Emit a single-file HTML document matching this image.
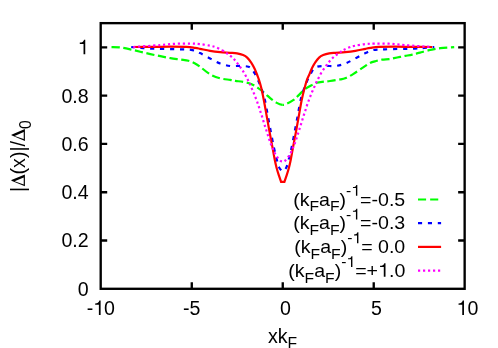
<!DOCTYPE html>
<html><head><meta charset="utf-8"><title>plot</title>
<style>html,body{margin:0;padding:0;background:#fff}body{width:498px;height:348px;overflow:hidden;font-family:"Liberation Sans",sans-serif}svg{position:absolute;left:0;top:0;display:block;will-change:transform}</style>
</head><body>
<svg width="498" height="348" viewBox="0 0 498 348">
<g fill="none" stroke-width="2.20" stroke-linejoin="miter">
<path d="M282.50,104.90 C280.72,104.72 278.35,103.72 276.30,102.60 C274.25,101.48 272.05,99.70 270.20,98.20 C268.35,96.70 267.20,95.28 265.20,93.60 C263.20,91.92 260.55,89.72 258.20,88.10 C255.85,86.48 253.62,84.93 251.10,83.90 C248.58,82.87 245.70,82.40 243.10,81.90 C240.50,81.40 237.65,81.23 235.50,80.90 C233.35,80.57 232.75,80.33 230.20,79.90 C227.65,79.47 223.55,79.23 220.20,78.30 C216.85,77.37 213.47,76.23 210.10,74.30 C206.73,72.37 202.58,68.55 200.00,66.70 C197.42,64.85 196.52,64.18 194.60,63.20 C192.68,62.22 190.85,61.40 188.50,60.80 C186.15,60.20 183.52,60.03 180.50,59.60 C177.48,59.17 173.75,58.77 170.40,58.20 C167.05,57.63 163.75,56.88 160.40,56.20 C157.05,55.52 153.67,54.85 150.30,54.10 C146.93,53.35 143.55,52.50 140.20,51.70 C136.85,50.90 133.55,50.00 130.20,49.30 C126.85,48.60 123.30,47.87 120.10,47.50 C116.90,47.13 112.52,47.17 111.00,47.10" stroke="#00ff00" stroke-dasharray="8.2 3.6" stroke-dashoffset="0.9"/>
<path d="M282.50,104.90 C284.28,105.08 285.15,104.53 287.00,103.70 C288.85,102.87 292.00,100.98 293.60,99.90 C295.20,98.82 295.18,98.53 296.60,97.20 C298.02,95.87 300.60,93.33 302.10,91.90 C303.60,90.47 303.92,89.77 305.60,88.60 C307.28,87.43 310.35,85.87 312.20,84.90 C314.05,83.93 314.78,83.33 316.70,82.80 C318.62,82.27 321.48,82.00 323.70,81.70 C325.92,81.40 327.27,81.38 330.00,81.00 C332.73,80.62 337.58,79.85 340.10,79.40 C342.62,78.95 342.93,79.18 345.10,78.30 C347.27,77.42 350.08,75.92 353.10,74.10 C356.12,72.28 360.38,69.25 363.20,67.40 C366.02,65.55 367.87,64.07 370.00,63.00 C372.13,61.93 373.98,61.57 376.00,61.00 C378.02,60.43 379.92,59.92 382.10,59.60 C384.28,59.28 387.10,59.35 389.10,59.10 C391.10,58.85 392.25,58.47 394.10,58.10 C395.95,57.73 398.35,57.27 400.20,56.90 C402.05,56.53 403.18,56.28 405.20,55.90 C407.22,55.52 409.83,55.15 412.30,54.60 C414.77,54.05 416.98,53.38 420.00,52.60 C423.02,51.82 427.00,50.63 430.40,49.90 C433.80,49.17 436.43,48.67 440.40,48.20 C444.37,47.73 451.90,47.28 454.20,47.10" stroke="#00ff00" stroke-dasharray="8.2 3.6" stroke-dashoffset="6.8"/>
<path d="M282.75,171.30 C282.20,171.30 281.73,170.80 281.10,170.10 C280.48,169.40 279.70,168.78 279.00,167.10 C278.30,165.42 277.77,163.35 276.90,160.00 C276.03,156.65 274.87,152.00 273.80,147.00 C272.73,142.00 271.52,135.33 270.50,130.00 C269.48,124.67 268.63,120.00 267.70,115.00 C266.77,110.00 265.80,104.00 264.90,100.00 C264.00,96.00 263.12,93.50 262.30,91.00 C261.48,88.50 260.80,87.00 260.00,85.00 C259.20,83.00 258.40,80.95 257.50,79.00 C256.60,77.05 255.52,74.92 254.60,73.30 C253.68,71.68 253.03,70.40 252.00,69.30 C250.97,68.20 250.35,67.27 248.40,66.70 C246.45,66.13 243.33,66.02 240.30,65.90 C237.27,65.78 233.55,66.40 230.20,66.00 C226.85,65.60 223.55,64.77 220.20,63.50 C216.85,62.23 213.47,60.13 210.10,58.40 C206.73,56.67 202.93,54.48 200.00,53.10 C197.07,51.72 195.75,50.73 192.50,50.10 C189.25,49.47 187.53,49.55 180.50,49.30 C173.47,49.05 156.88,48.83 150.30,48.60 C143.72,48.37 144.18,48.17 141.00,47.90 C137.82,47.63 132.83,47.15 131.20,47.00" stroke="#0000ff" stroke-dasharray="4.2 5.7" stroke-dashoffset="7.95"/>
<path d="M282.75,171.30 C283.30,171.30 283.77,170.80 284.40,170.10 C285.02,169.40 285.80,168.78 286.50,167.10 C287.20,165.42 287.73,163.35 288.60,160.00 C289.47,156.65 290.63,152.00 291.70,147.00 C292.77,142.00 293.98,135.33 295.00,130.00 C296.02,124.67 296.87,120.00 297.80,115.00 C298.73,110.00 299.70,104.00 300.60,100.00 C301.50,96.00 302.38,93.50 303.20,91.00 C304.02,88.50 304.70,87.00 305.50,85.00 C306.30,83.00 307.10,80.95 308.00,79.00 C308.90,77.05 309.98,74.92 310.90,73.30 C311.82,71.68 312.47,70.40 313.50,69.30 C314.53,68.20 315.15,67.27 317.10,66.70 C319.05,66.13 322.17,66.02 325.20,65.90 C328.23,65.78 331.95,66.40 335.30,66.00 C338.65,65.60 341.95,64.77 345.30,63.50 C348.65,62.23 352.03,60.13 355.40,58.40 C358.77,56.67 362.57,54.48 365.50,53.10 C368.43,51.72 369.75,50.73 373.00,50.10 C376.25,49.47 377.97,49.55 385.00,49.30 C392.03,49.05 408.62,48.83 415.20,48.60 C421.78,48.37 421.32,48.17 424.50,47.90 C427.68,47.63 432.67,47.15 434.30,47.00" stroke="#0000ff" stroke-dasharray="4.2 5.7" stroke-dashoffset="6.15"/>
<path d="M133.20,47.00 C136.05,46.98 144.10,46.95 150.30,46.90 C156.50,46.85 164.37,46.70 170.40,46.70 C176.43,46.70 182.40,46.70 186.50,46.90 C190.60,47.10 192.75,47.58 195.00,47.90 C197.25,48.22 197.48,48.30 200.00,48.80 C202.52,49.30 206.73,50.33 210.10,50.90 C213.47,51.47 216.87,51.88 220.20,52.20 C223.53,52.52 227.28,52.60 230.10,52.80 C232.92,53.00 234.93,53.02 237.10,53.40 C239.27,53.78 241.42,54.40 243.10,55.10 C244.78,55.80 245.85,56.35 247.20,57.60 C248.55,58.85 249.98,60.78 251.20,62.60 C252.42,64.42 253.50,66.43 254.50,68.50 C255.50,70.57 256.48,73.20 257.20,75.00 C257.92,76.80 258.12,77.13 258.80,79.30 C259.48,81.47 260.47,84.55 261.30,88.00 C262.13,91.45 262.93,95.50 263.80,100.00 C264.67,104.50 265.60,110.00 266.50,115.00 C267.40,120.00 268.22,124.67 269.20,130.00 C270.18,135.33 271.47,142.00 272.40,147.00 C273.33,152.00 274.12,156.58 274.80,160.00 C275.48,163.42 275.85,165.02 276.50,167.50 C277.15,169.98 277.93,172.50 278.70,174.90 L281.10,181.90 L284.40,181.90 L286.80,174.90 C287.57,172.50 288.35,169.98 289.00,167.50 C289.65,165.02 290.02,163.42 290.70,160.00 C291.38,156.58 292.17,152.00 293.10,147.00 C294.03,142.00 295.32,135.33 296.30,130.00 C297.28,124.67 298.10,120.00 299.00,115.00 C299.90,110.00 300.77,104.50 301.70,100.00 C302.63,95.50 303.70,91.45 304.60,88.00 C305.50,84.55 306.35,81.47 307.10,79.30 C307.85,77.13 308.32,76.80 309.10,75.00 C309.88,73.20 310.80,70.57 311.80,68.50 C312.80,66.43 313.88,64.42 315.10,62.60 C316.32,60.78 317.75,58.85 319.10,57.60 C320.45,56.35 321.52,55.80 323.20,55.10 C324.88,54.40 327.17,53.78 329.20,53.40 C331.23,53.02 332.72,53.00 335.40,52.80 C338.08,52.60 341.97,52.52 345.30,52.20 C348.63,51.88 352.03,51.47 355.40,50.90 C358.77,50.33 362.98,49.30 365.50,48.80 C368.02,48.30 368.25,48.22 370.50,47.90 C372.75,47.58 374.90,47.10 379.00,46.90 C383.10,46.70 389.07,46.70 395.10,46.70 C401.13,46.70 409.00,46.85 415.20,46.90 C421.40,46.95 429.45,46.98 432.30,47.00" stroke="#ff0000"/>
<path d="M133.20,47.00 C137.73,46.68 153.18,45.65 160.40,45.10 C167.62,44.55 171.48,43.95 176.50,43.70 C181.52,43.45 186.58,43.53 190.50,43.60 C194.42,43.67 196.73,43.75 200.00,44.10 C203.27,44.45 207.43,45.17 210.10,45.70 C212.77,46.23 214.02,46.57 216.00,47.30 C217.98,48.03 220.30,49.17 222.00,50.10" stroke="#ff00ff" stroke-dasharray="2.2 2.77" stroke-dashoffset="0"/>
<path d="M282.75,161.60 C282.02,161.60 281.36,161.47 280.50,160.80 C279.64,160.13 278.50,158.77 277.60,157.60 C276.70,156.43 275.85,155.22 275.10,153.80 C274.35,152.38 273.77,150.63 273.10,149.10 C272.43,147.57 271.72,146.15 271.10,144.60 C270.48,143.05 269.95,141.40 269.40,139.80 C268.85,138.20 268.30,136.55 267.80,135.00 C267.30,133.45 266.88,132.02 266.40,130.50 C265.92,128.98 265.40,127.47 264.90,125.90 C264.40,124.33 263.90,122.73 263.40,121.10 C262.90,119.47 262.40,117.68 261.90,116.10 C261.40,114.52 260.90,113.15 260.40,111.60 C259.90,110.05 259.42,108.37 258.90,106.80 C258.38,105.23 257.85,103.72 257.30,102.20 C256.75,100.68 256.18,99.22 255.60,97.70 C255.02,96.18 254.43,94.62 253.80,93.10 C253.17,91.58 252.45,90.10 251.80,88.60 C251.15,87.10 250.57,85.57 249.90,84.10 C249.23,82.63 248.57,81.32 247.80,79.80 C247.03,78.28 246.12,76.48 245.30,75.00 C244.48,73.52 243.77,72.25 242.90,70.90 C242.03,69.55 241.07,68.23 240.10,66.90 C239.13,65.57 238.13,64.20 237.10,62.90 C236.07,61.60 235.02,60.27 233.90,59.10 C232.78,57.93 231.68,56.93 230.40,55.90 C229.12,54.87 227.60,53.87 226.20,52.90 C224.80,51.93 223.70,51.03 222.00,50.10" stroke="#ff00ff" stroke-dasharray="2.2 2.69" stroke-dashoffset="4.05"/>
<path d="M282.75,161.60 C283.48,161.60 284.06,161.47 284.90,160.80 C285.74,160.13 286.90,158.77 287.80,157.60 C288.70,156.43 289.55,155.22 290.30,153.80 C291.05,152.38 291.63,150.63 292.30,149.10 C292.97,147.57 293.68,146.15 294.30,144.60 C294.92,143.05 295.45,141.40 296.00,139.80 C296.55,138.20 297.10,136.55 297.60,135.00 C298.10,133.45 298.52,132.02 299.00,130.50 C299.48,128.98 300.00,127.47 300.50,125.90 C301.00,124.33 301.50,122.73 302.00,121.10 C302.50,119.47 303.00,117.68 303.50,116.10 C304.00,114.52 304.50,113.15 305.00,111.60 C305.50,110.05 305.98,108.37 306.50,106.80 C307.02,105.23 307.55,103.72 308.10,102.20 C308.65,100.68 309.22,99.22 309.80,97.70 C310.38,96.18 310.97,94.62 311.60,93.10 C312.23,91.58 312.95,90.10 313.60,88.60 C314.25,87.10 314.83,85.57 315.50,84.10 C316.17,82.63 316.83,81.32 317.60,79.80 C318.37,78.28 319.28,76.48 320.10,75.00 C320.92,73.52 321.63,72.25 322.50,70.90 C323.37,69.55 324.33,68.23 325.30,66.90 C326.27,65.57 327.27,64.20 328.30,62.90 C329.33,61.60 330.38,60.27 331.50,59.10 C332.62,57.93 333.72,56.93 335.00,55.90 C336.28,54.87 337.80,53.87 339.20,52.90 C340.60,51.93 341.70,51.03 343.40,50.10" stroke="#ff00ff" stroke-dasharray="2.2 2.76" stroke-dashoffset="3.05"/>
<path d="M432.20,47.00 C427.67,46.68 412.22,45.65 405.00,45.10 C397.78,44.55 393.92,43.95 388.90,43.70 C383.88,43.45 378.82,43.53 374.90,43.60 C370.98,43.67 368.67,43.75 365.40,44.10 C362.13,44.45 357.97,45.17 355.30,45.70 C352.63,46.23 351.38,46.57 349.40,47.30 C347.42,48.03 345.10,49.17 343.40,50.10" stroke="#ff00ff" stroke-dasharray="2.2 2.77" stroke-dashoffset="2.1"/>
<path d="M418.0,199.5H441.1" stroke="#00ff00" stroke-dasharray="8.1 4.05"/>
<path d="M418.0,223.2H441.1" stroke="#0000ff" stroke-dasharray="4.1 5.8"/>
<path d="M418.0,246.9H441.1" stroke="#ff0000"/>
<path d="M418.0,270.7H441.1" stroke="#ff00ff" stroke-dasharray="2.2 2.8"/>
</g>
<g fill="none" stroke="#000" stroke-width="2.35">
<rect x="100.70" y="23.15" width="363.95" height="265.65"/>
<path d="M100.70,240.50h6.50 M464.65,240.50h-6.50 M100.70,192.20h6.50 M464.65,192.20h-6.50 M100.70,143.90h6.50 M464.65,143.90h-6.50 M100.70,95.60h6.50 M464.65,95.60h-6.50 M100.70,47.30h6.50 M464.65,47.30h-6.50 M191.78,288.80v-6.50 M191.78,23.15v6.50 M282.75,288.80v-6.50 M282.75,23.15v6.50 M373.73,288.80v-6.50 M373.73,23.15v6.50"/>
</g>
<g font-family="'Liberation Sans', sans-serif" font-size="19.60" fill="#000">
<g transform="matrix(1 0 0 1.060 0 -17.288)">
<text x="77.80" y="295.15" font-size="19.60" xml:space="preserve">0</text>
</g>
<g transform="matrix(1 0 0 1.060 0 -14.394)">
<text x="61.46" y="246.91" font-size="19.60" xml:space="preserve">0.2</text>
</g>
<g transform="matrix(1 0 0 1.060 0 -11.499)">
<text x="61.46" y="198.67" font-size="19.60" xml:space="preserve">0.4</text>
</g>
<g transform="matrix(1 0 0 1.060 0 -8.605)">
<text x="61.46" y="150.43" font-size="19.60" xml:space="preserve">0.6</text>
</g>
<g transform="matrix(1 0 0 1.060 0 -5.710)">
<text x="61.46" y="102.19" font-size="19.60" xml:space="preserve">0.8</text>
</g>
<g transform="matrix(1 0 0 1.060 0 -2.816)">
<path d="M85.25,53.95 L83.53,53.95 L83.53,44.05 L79.80,44.05 L79.80,42.82 C82.02,42.70 83.60,42.07 84.04,40.05 L85.25,40.05 Z"/>
</g>
<g transform="matrix(1 0 0 1.040 0 -12.307)">
<text x="86.64" y="314.70" font-size="19.60" xml:space="preserve">-</text>
<path d="M100.61,314.70 L98.89,314.70 L98.89,304.80 L95.17,304.80 L95.17,303.57 C97.38,303.45 98.97,302.82 99.40,300.80 L100.61,300.80 Z"/>
<text x="104.06" y="314.70" font-size="19.60" xml:space="preserve">0</text>
</g>
<g transform="matrix(1 0 0 1.040 0 -12.307)">
<text x="183.06" y="314.70" font-size="19.60" xml:space="preserve">-5</text>
</g>
<g transform="matrix(1 0 0 1.040 0 -12.307)">
<text x="274.58" y="314.70" font-size="19.60" xml:space="preserve"> 0</text>
</g>
<g transform="matrix(1 0 0 1.040 0 -12.307)">
<text x="365.55" y="314.70" font-size="19.60" xml:space="preserve"> 5</text>
</g>
<g transform="matrix(1 0 0 1.040 0 -12.307)">
<path d="M463.97,314.70 L462.25,314.70 L462.25,304.80 L458.53,304.80 L458.53,303.57 C460.74,303.45 462.33,302.82 462.76,300.80 L463.97,300.80 Z"/>
<text x="467.42" y="314.70" font-size="19.60" xml:space="preserve">0</text>
</g>
<text x="268.00" y="342.90" font-size="19.60" xml:space="preserve">xk</text>
<text x="287.60" y="349.40" font-size="15.70" xml:space="preserve">F</text>
<g transform="matrix(1 0 0 0.980 0 3.974)">
<text x="293.19" y="205.70" font-size="19.60" xml:space="preserve">(k</text>
<text x="309.52" y="211.60" font-size="15.70" xml:space="preserve">F</text>
<text x="319.11" y="205.70" font-size="19.60" xml:space="preserve">a</text>
<text x="330.01" y="211.60" font-size="15.70" xml:space="preserve">F</text>
<text x="339.60" y="205.70" font-size="19.60" xml:space="preserve">)</text>
<text x="346.13" y="195.80" font-size="15.70" xml:space="preserve">-</text>
<path d="M357.32,195.80 L355.94,195.80 L355.94,187.87 L352.95,187.87 L352.95,186.88 C354.73,186.79 356.00,186.29 356.35,184.67 L357.32,184.67 Z"/>
<text x="360.08" y="205.70" font-size="19.60" xml:space="preserve">=-0.5</text>
</g>
<g transform="matrix(1 0 0 0.980 0 4.448)">
<text x="293.19" y="229.40" font-size="19.60" xml:space="preserve">(k</text>
<text x="309.52" y="235.30" font-size="15.70" xml:space="preserve">F</text>
<text x="319.11" y="229.40" font-size="19.60" xml:space="preserve">a</text>
<text x="330.01" y="235.30" font-size="15.70" xml:space="preserve">F</text>
<text x="339.60" y="229.40" font-size="19.60" xml:space="preserve">)</text>
<text x="346.13" y="219.50" font-size="15.70" xml:space="preserve">-</text>
<path d="M357.32,219.50 L355.94,219.50 L355.94,211.57 L352.95,211.57 L352.95,210.58 C354.73,210.49 356.00,209.99 356.35,208.37 L357.32,208.37 Z"/>
<text x="360.08" y="229.40" font-size="19.60" xml:space="preserve">=-0.3</text>
</g>
<g transform="matrix(1 0 0 0.980 0 4.922)">
<text x="294.27" y="253.10" font-size="19.60" xml:space="preserve">(k</text>
<text x="310.59" y="259.00" font-size="15.70" xml:space="preserve">F</text>
<text x="320.19" y="253.10" font-size="19.60" xml:space="preserve">a</text>
<text x="331.08" y="259.00" font-size="15.70" xml:space="preserve">F</text>
<text x="340.68" y="253.10" font-size="19.60" xml:space="preserve">)</text>
<text x="347.20" y="243.20" font-size="15.70" xml:space="preserve">-</text>
<path d="M358.40,243.20 L357.02,243.20 L357.02,235.27 L354.03,235.27 L354.03,234.28 C355.81,234.19 357.08,233.69 357.42,232.07 L358.40,232.07 Z"/>
<text x="361.16" y="253.10" font-size="19.60" xml:space="preserve">= 0.0</text>
</g>
<g transform="matrix(1 0 0 0.980 0 5.398)">
<text x="288.27" y="276.90" font-size="19.60" xml:space="preserve">(k</text>
<text x="304.60" y="282.80" font-size="15.70" xml:space="preserve">F</text>
<text x="314.19" y="276.90" font-size="19.60" xml:space="preserve">a</text>
<text x="325.09" y="282.80" font-size="15.70" xml:space="preserve">F</text>
<text x="334.68" y="276.90" font-size="19.60" xml:space="preserve">)</text>
<text x="341.21" y="267.00" font-size="15.70" xml:space="preserve">-</text>
<path d="M352.40,267.00 L351.02,267.00 L351.02,259.07 L348.04,259.07 L348.04,258.08 C349.81,257.99 351.08,257.49 351.43,255.87 L352.40,255.87 Z"/>
<text x="355.16" y="276.90" font-size="19.60" xml:space="preserve">=+</text>
<path d="M385.50,276.90 L383.78,276.90 L383.78,267.00 L380.06,267.00 L380.06,265.77 C382.27,265.65 383.86,265.02 384.29,263.00 L385.50,263.00 Z"/>
<text x="388.95" y="276.90" font-size="19.60" xml:space="preserve">.0</text>
</g>
<g transform="translate(24.9,191.5) rotate(-90)">
<text x="-0.50" y="0">|</text>
<path fill-rule="evenodd" d="M5.19,0.00 L17.01,0.00 L11.41,-13.48 L10.82,-13.48 Z M7.10,-1.18 L14.07,-1.18 L10.23,-10.29 Z"/>
<text x="17.09" y="0">(</text>
<text x="23.62" y="0">x</text>
<text x="33.42" y="0">)</text>
<text x="39.94" y="0">|</text>
<text x="45.04" y="0">/</text>
<path fill-rule="evenodd" d="M50.59,0.00 L62.41,0.00 L56.80,-13.48 L56.21,-13.48 Z M52.49,-1.18 L59.47,-1.18 L55.62,-10.29 Z"/>
<text x="62.48" y="5.9" font-size="15.70">0</text>
</g>
</g>
</svg>
</body></html>
